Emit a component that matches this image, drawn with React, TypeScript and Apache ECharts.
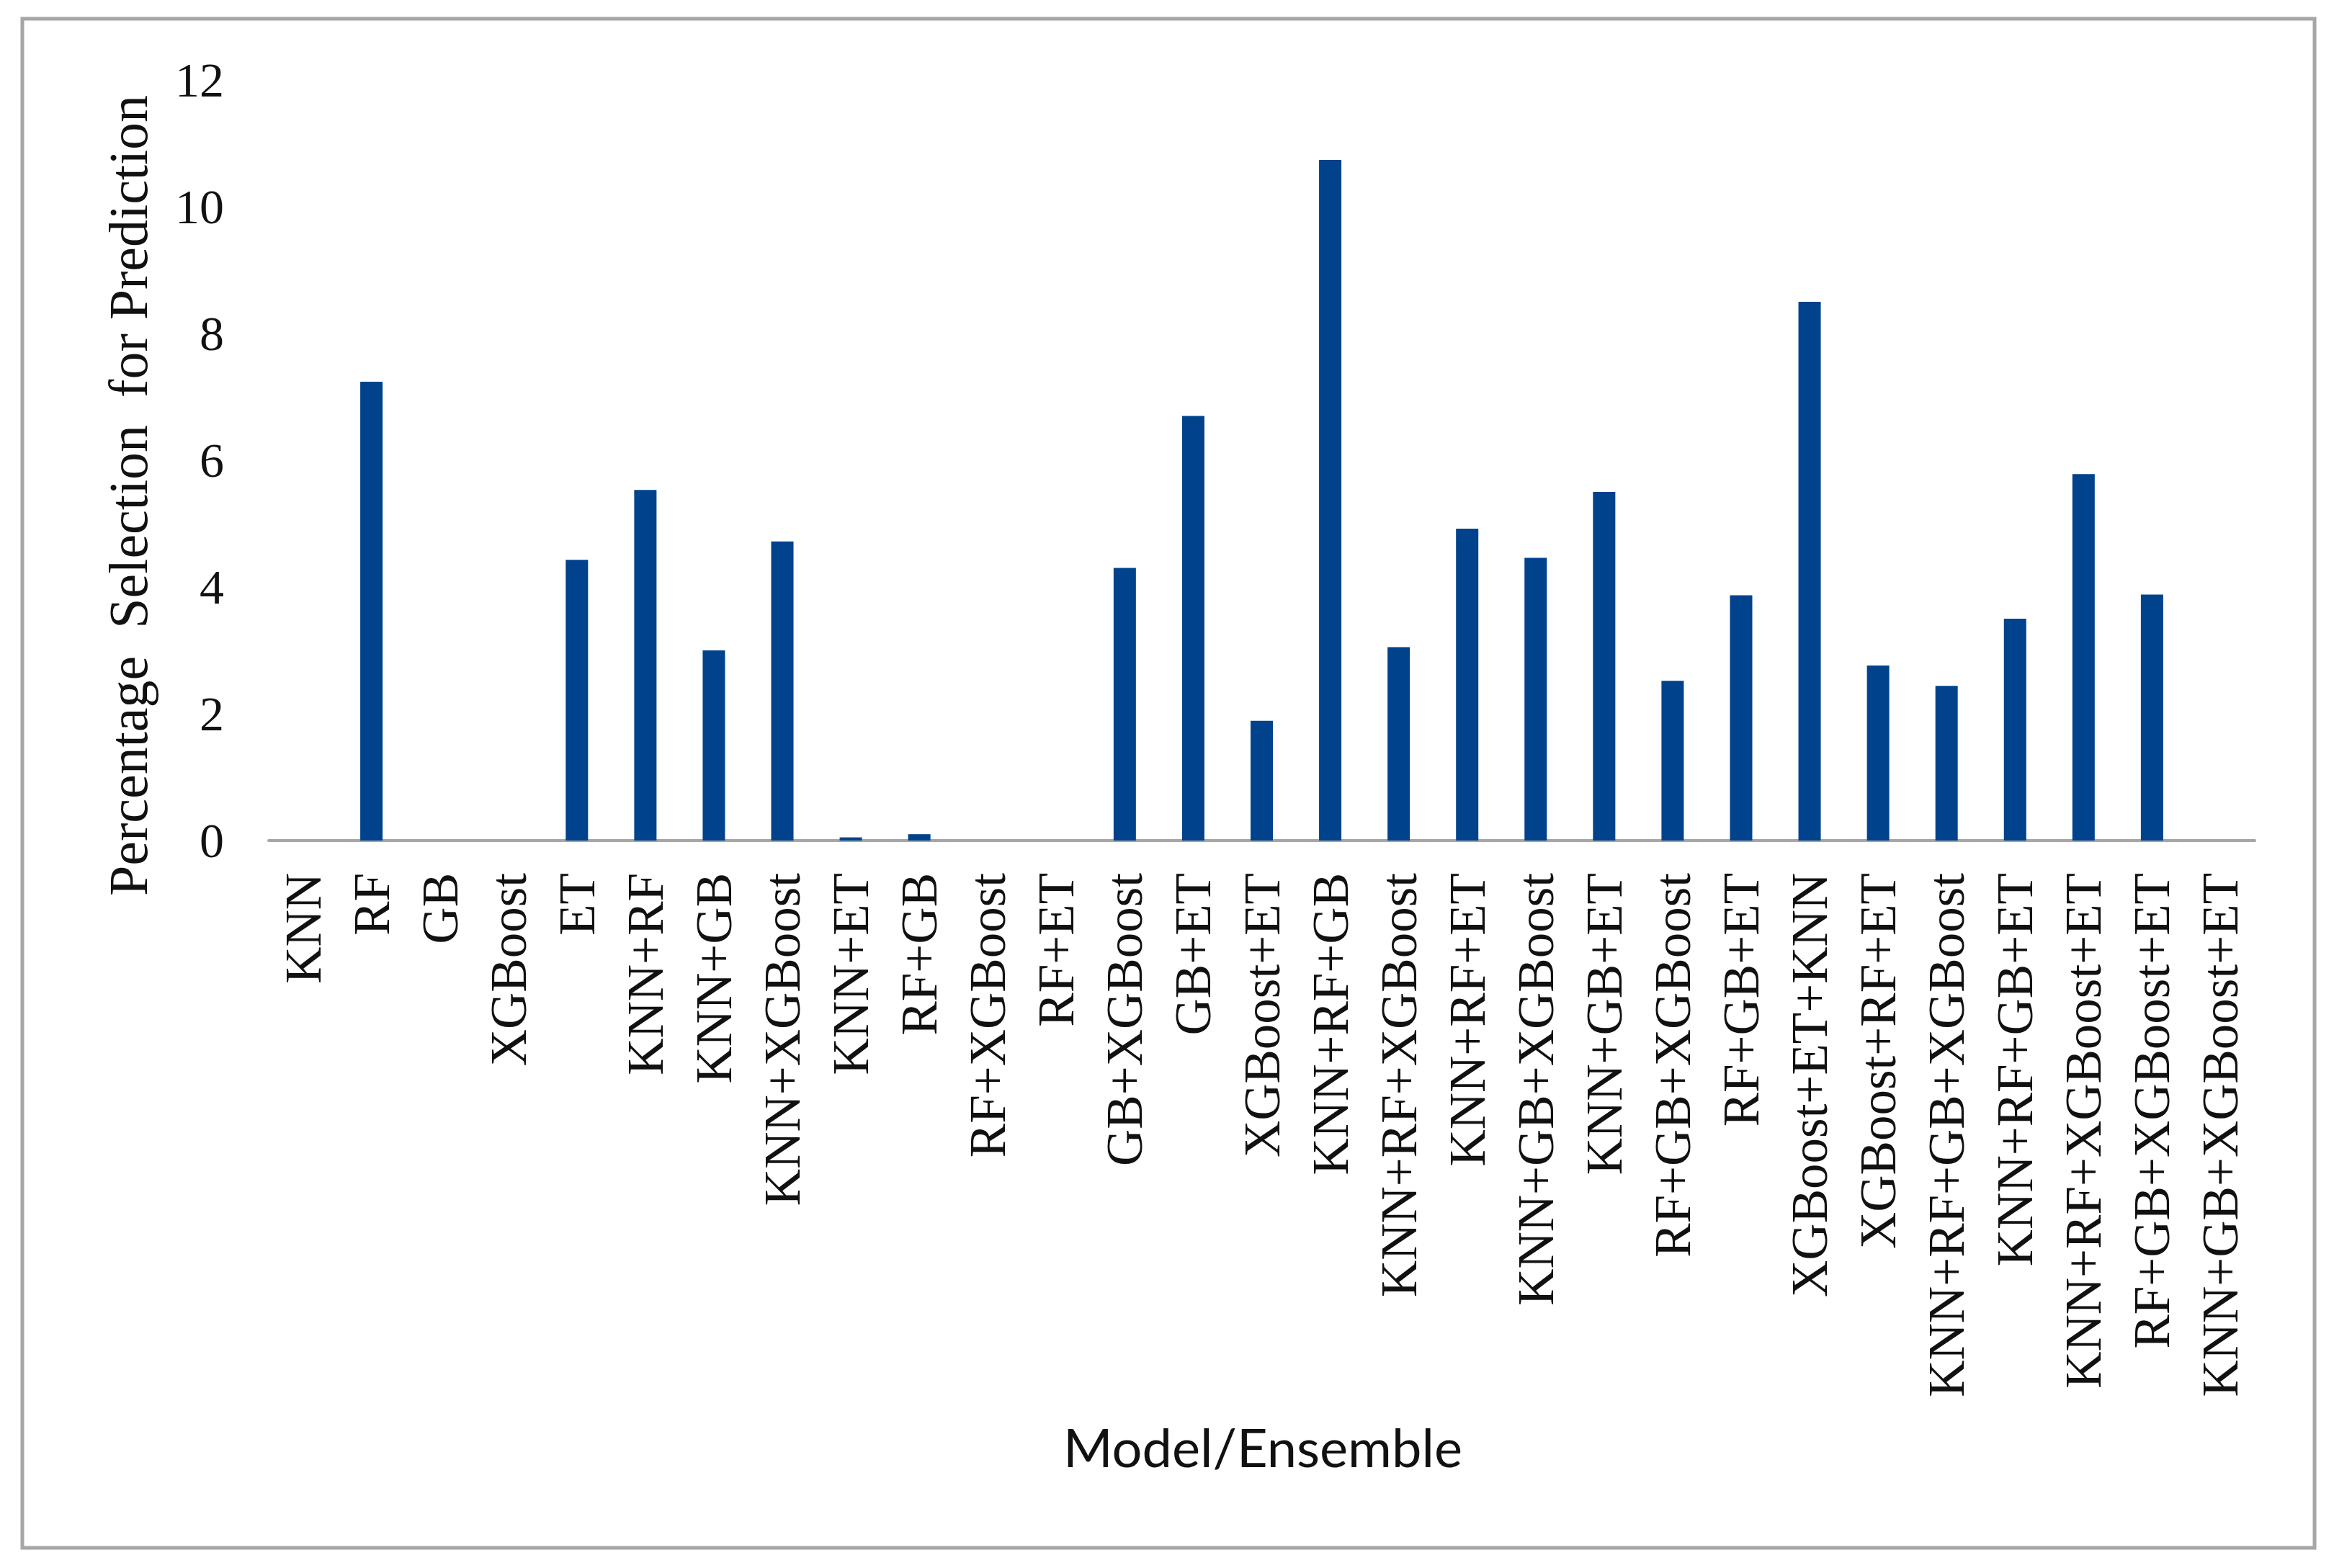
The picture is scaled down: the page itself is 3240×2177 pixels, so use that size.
import React, { useEffect, useRef } from "react";
import * as echarts from "echarts";

const categories: string[] = [
  "KNN", "RF", "GB", "XGBoost", "ET", "KNN+RF", "KNN+GB", "KNN+XGBoost", "KNN+ET", "RF+GB",
  "RF+XGBoost", "RF+ET", "GB+XGBoost", "GB+ET", "XGBoost+ET", "KNN+RF+GB", "KNN+RF+XGBoost",
  "KNN+RF+ET", "KNN+GB+XGBoost", "KNN+GB+ET", "RF+GB+XGBoost", "RF+GB+ET", "XGBoost+ET+KNN",
  "XGBoost+RF+ET", "KNN+RF+GB+XGBoost", "KNN+RF+GB+ET", "KNN+RF+XGBoost+ET", "RF+GB+XGBoost+ET",
  "KNN+GB+XGBoost+ET",
];

const values: number[] = [
  0, 7.24, 0, 0, 4.43, 5.53, 3.0, 4.72, 0.05, 0.1,
  0, 0, 4.3, 6.7, 1.89, 10.74, 3.05,
  4.92, 4.46, 5.5, 2.52, 3.87, 8.5,
  2.76, 2.44, 3.5, 5.78, 3.88,
  0,
];

const yMin = 0;
const yMax = 12;
const yStep = 2;

const yTitle = "Percentage  Selection  for Prediction";
const xTitle = "Model/Ensemble";

export default function App() {
  const ref = useRef<HTMLDivElement>(null);
  useEffect(() => {
    if (!ref.current) return;
    const chart = echarts.init(ref.current, null, { renderer: "svg" });
    const serif = "'Liberation Serif', 'Times New Roman', serif";
    chart.setOption({
      animation: false,
      backgroundColor: "#ffffff",
      grid: { left: 373, right: 110, top: 111, bottom: 1010, containLabel: false },
      xAxis: {
        type: "category",
        data: categories,
        axisLine: { show: true, lineStyle: { color: "#A6A6A6", width: 4 } },
        axisTick: { show: false },
        axisLabel: {
          interval: 0,
          rotate: 90,
          margin: 45,
          fontFamily: serif,
          fontSize: 71,
          color: "#111111",
        },
      },
      yAxis: {
        type: "value",
        min: yMin,
        max: yMax,
        interval: yStep,
        axisLine: { show: false },
        axisTick: { show: false },
        splitLine: { show: false },
        axisLabel: {
          margin: 62,
          fontFamily: serif,
          fontSize: 68,
          color: "#111111",
        },
      },
      series: [
        {
          type: "bar",
          data: values,
          barWidth: 31,
          itemStyle: { color: "#00428C" },
        },
      ],
      graphic: [
        {
          type: "rect",
          shape: { x: 31, y: 26, width: 3182, height: 2123 },
          style: { fill: "none", stroke: "#A6A6A6", lineWidth: 5 },
          silent: true,
        },
        {
          type: "text",
          x: 178,
          y: 688,
          rotation: Math.PI / 2,
          style: {
            text: yTitle,
            fontFamily: serif,
            fontSize: 76,
            fill: "#111111",
            textAlign: "center",
            textVerticalAlign: "middle",
          },
        },
        {
          type: "text",
          x: 1753,
          y: 2008,
          style: {
            text: xTitle,
            fontFamily: "Lato, 'Noto Sans', sans-serif",
            fontSize: 74,
            fill: "#111111",
            textAlign: "center",
            textVerticalAlign: "middle",
          },
        },
      ],
    });
    return () => chart.dispose();
  }, []);
  return (
    <div
      ref={ref}
      style={{ position: "fixed", left: 0, top: 0, width: 3240, height: 2177 }}
    />
  );
}
